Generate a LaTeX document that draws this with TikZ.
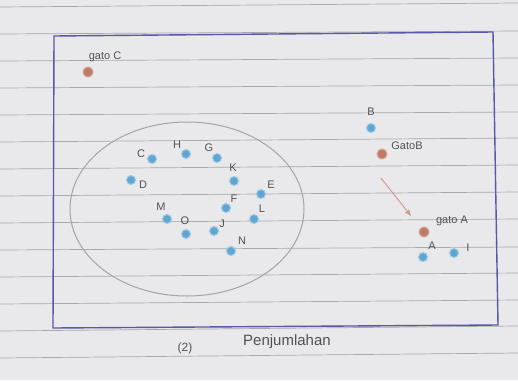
\documentclass[tikz,border=0pt]{standalone}
\usepackage{fontspec}
\setmainfont{Liberation Sans}
\usetikzlibrary{arrows.meta}

\definecolor{paper}{HTML}{E9E9EB}
\definecolor{rule}{HTML}{A8A8AC}
\definecolor{frame}{HTML}{5858A8}
\definecolor{ring}{HTML}{A4A4A8}
\definecolor{dotblue}{HTML}{5FA6D2}
\definecolor{dotred}{HTML}{C27A68}
\definecolor{ink}{HTML}{505058}

\begin{document}
\begin{tikzpicture}[x=1pt,y=-1pt,>=Stealth,
    bdot/.style={circle,fill=dotblue,draw=dotblue!60!white,line width=1pt,inner sep=0pt,minimum size=9pt},
    rdot/.style={circle,fill=dotred,draw=dotred!70!white,line width=1pt,inner sep=0pt,minimum size=10pt},
    lab/.style={text=ink,font=\fontsize{11}{13}\selectfont,inner sep=1pt}]

            % the sheet of paper
            \fill[paper] (0,0) rectangle (518,380);
            \useasboundingbox (0,0) rectangle (518,380);

            % ruled lines of the paper
            \foreach \yl/\yr in {7/3,34/31,61/58,88/85,115/112,142/138,169/165,196/192,223/219,250/247,277/273,304/300,331/326,358/353}
                \draw[rule,line width=0.7pt] (0,\yl) -- (518,\yr);

            % the frame
            \draw[frame,line width=1.4pt] (54,36) -- (493,32) -- (498,325) -- (53,328) -- cycle;

            % the set
            \draw[ring,line width=1pt] (187,209) ellipse (117 and 87);

            % gato C
            \node[rdot] (gatoC) at (88,72) {};
            \node[lab] (tgatoC) at (105,57) {gato C};

            % points in the set
            \node[bdot] (C) at (152,159) {};
            \node[lab] (tC) at (141,154) {C};
            \node[bdot] (H) at (186,154) {};
            \node[lab] (tH) at (177,145) {H};
            \node[bdot] (G) at (217,158) {};
            \node[lab] (tG) at (209,148) {G};
            \node[bdot] (K) at (234,181) {};
            \node[lab] (tK) at (233,168) {K};
            \node[bdot] (D) at (131,180) {};
            \node[lab] (tD) at (143,185) {D};
            \node[bdot] (E) at (261,194) {};
            \node[lab] (tE) at (271,185) {E};
            \node[bdot] (F) at (226,208) {};
            \node[lab] (tF) at (234,199) {F};
            \node[bdot] (L) at (254,219) {};
            \node[lab] (tL) at (262,209) {L};
            \node[bdot] (M) at (167,219) {};
            \node[lab] (tM) at (161,207) {M};
            \node[bdot] (O) at (186,234) {};
            \node[lab] (tO) at (185,221) {O};
            \node[bdot] (J) at (214,231) {};
            \node[lab] (tJ) at (222,224) {J};
            \node[bdot] (N) at (231,251) {};
            \node[lab] (tN) at (242,241) {N};

            % B and gato B
            \node[bdot] (B) at (371,128) {};
            \node[lab] (tB) at (371,112) {B};
            \node[rdot] (gatoB) at (382,154) {};
            \node[lab] (tgatoB) at (407,146) {GatoB};

            % the move
            \coordinate (arrS) at (381,178);
            \coordinate (arrE) at (411,216);
            \draw[->,dotred!80!white,line width=0.9pt] (arrS) -- (arrE);

            % gato A, A and I
            \node[rdot] (gatoA) at (424,232) {};
            \node[lab] (tgatoA) at (452,221) {gato A};
            \node[bdot] (A) at (423,257) {};
            \node[lab] (tA) at (432,246) {A};
            \node[bdot] (I) at (454,253) {};
            \node[lab] (tI) at (468,248) {I};

            % caption
            \node[lab,font=\fontsize{12}{14}\selectfont] (num) at (185,348) {(2)};
            \node[lab,font=\fontsize{15}{17}\selectfont] (cap) at (287,342) {Penjumlahan};
\end{tikzpicture}
\end{document}
